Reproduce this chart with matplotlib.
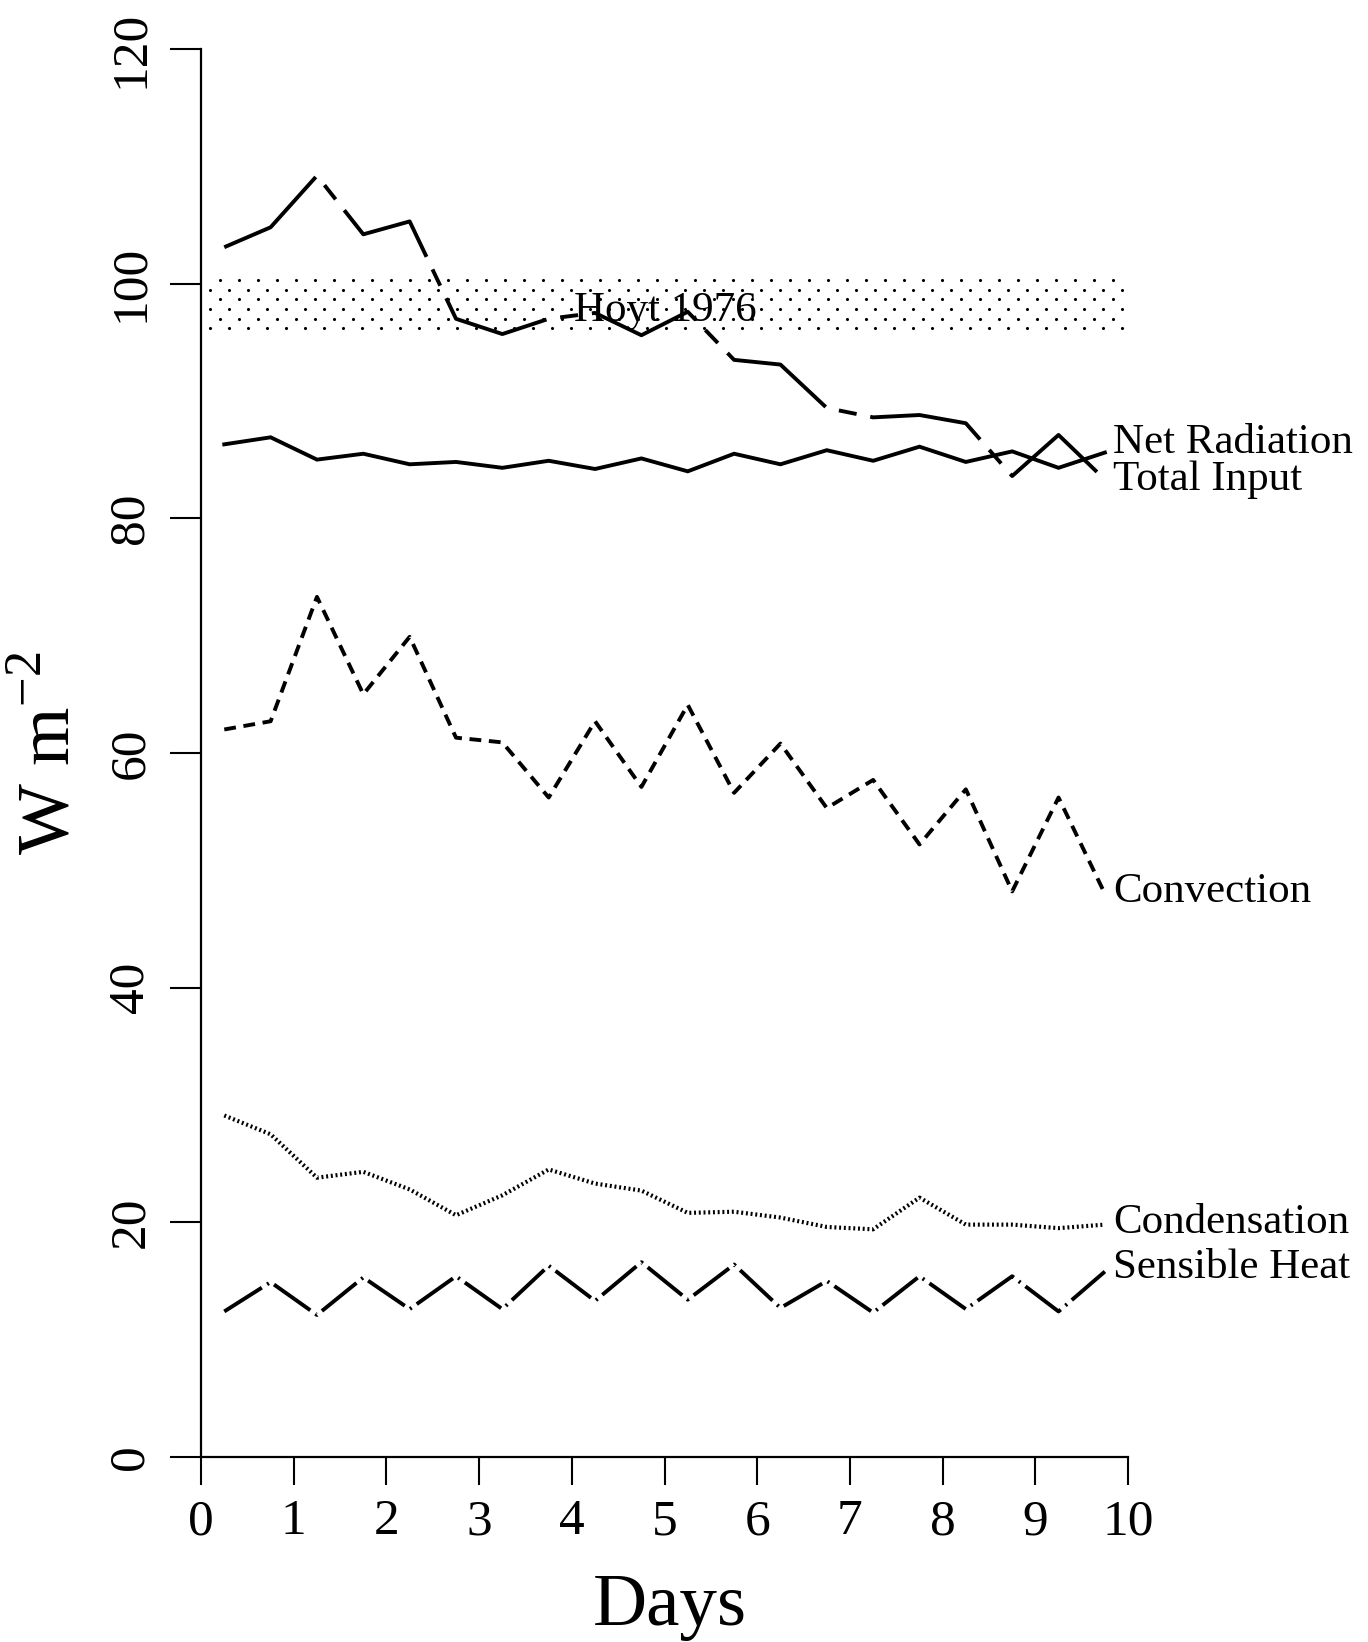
import numpy as np
import matplotlib
matplotlib.use("Agg")
import matplotlib.pyplot as plt

plt.rcParams['font.family'] = ['Liberation Serif', 'DejaVu Serif']
plt.rcParams['mathtext.fontset'] = 'custom'
plt.rcParams['mathtext.rm'] = 'Liberation Serif'
plt.rcParams['lines.scale_dashes'] = False

# data (days, W m-2)
days = [0.25, 0.75, 1.25, 1.75, 2.25, 2.75, 3.25, 3.75, 4.25, 4.75,
        5.25, 5.75, 6.25, 6.75, 7.25, 7.75, 8.25, 8.75, 9.25, 9.75]
total_input = [103.1, 104.8, 109.2, 104.2, 105.3, 97.0, 95.7, 97.0, 97.5, 95.6,
               97.6, 93.5, 93.1, 89.4, 88.6, 88.8, 88.1, 83.6, 87.1, 83.3]
net_radiation = [86.3, 86.9, 85.0, 85.5, 84.6, 84.8, 84.3, 84.9, 84.2, 85.1,
                 84.0, 85.5, 84.6, 85.8, 84.9, 86.1, 84.8, 85.7, 84.3, 85.6]
convection = [62.0, 62.7, 73.3, 65.0, 69.9, 61.3, 60.9, 56.2, 62.7, 57.1,
              64.1, 56.6, 60.8, 55.3, 57.7, 52.2, 56.9, 48.2, 56.2, 48.0]
condensation = [29.1, 27.5, 23.8, 24.3, 22.8, 20.6, 22.3, 24.5, 23.3, 22.7,
                20.8, 20.9, 20.4, 19.6, 19.4, 22.1, 19.8, 19.8, 19.5, 19.8]
sensible_heat = [12.4, 14.9, 12.1, 15.3, 12.6, 15.4, 12.6, 16.3, 13.3, 16.6,
                 13.4, 16.4, 12.7, 15.0, 12.3, 15.4, 12.6, 15.4, 12.4, 15.8]

hoyt_range = (96.2, 100.3)
hoyt_days = (0.0, 9.95)

fig = plt.figure(figsize=(13.68, 16.42), dpi=100)
ax = fig.add_axes([0.147, 0.1127, 0.6776, 0.8575])

# Hoyt (1976) band, stippled like the original
n_rows = 6
row_y = np.linspace(hoyt_range[1], hoyt_range[0], n_rows)
dx = 0.205
for i, yy in enumerate(row_y):
    start = hoyt_days[0] + (0.2 if i % 2 == 0 else 0.1)
    xs = np.arange(start, hoyt_days[1], dx)
    ax.scatter(xs, np.full_like(xs, yy), s=5, color='black', linewidths=0)

lw = 2.8
ax.plot(days, total_input, color='black', lw=lw, dashes=(85, 10, 13, 10),
        solid_joinstyle='miter')
ax.plot(days, net_radiation, color='black', lw=lw, solid_joinstyle='miter')
ax.plot(days, convection, color='black', lw=lw, dashes=(8.5, 5.5))
ax.plot(days, condensation, color='black', lw=3.0, dashes=(1.4, 2.0))
ax.plot(days, sensible_heat, color='black', lw=lw, dashes=(32, 4.5, 1.5, 4.5))

# labels at line ends
lab_kw = dict(fontsize=31, va='center', ha='left', clip_on=False)
ax.text(9.84, 86.4, 'Net Radiation', **lab_kw)
ax.text(9.84, 83.3, 'Total Input', **lab_kw)
ax.text(9.84, 48.2, 'Convection', **lab_kw)
ax.text(9.84, 20.0, 'Condensation', **lab_kw)
ax.text(9.84, 16.1, 'Sensible Heat', **lab_kw)
ax.text(4.02, 97.7, 'Hoyt 1976', fontsize=31, va='center', ha='left')

ax.set_xlim(0, 10)
ax.set_ylim(0, 120)
ax.set_xticks(range(0, 11))
ax.set_yticks(range(0, 121, 20))
for s in ['top', 'right']:
    ax.spines[s].set_visible(False)
for s in ['left', 'bottom']:
    ax.spines[s].set_linewidth(1.6)

ax.tick_params(axis='x', direction='out', length=20, width=1.5, labelsize=37, pad=10)
ax.tick_params(axis='y', direction='out', length=22, width=1.5, labelsize=37, pad=12)
for t in ax.get_yticklabels():
    t.set_rotation(90)
    t.set_va('center')

ax.set_xlabel('Days', fontsize=54)
ax.xaxis.set_label_coords(0.506, -0.083)
ax.set_ylabel(r'W m$^{-2}$', fontsize=54)
ax.yaxis.set_label_coords(-0.125, 0.5)

fig.savefig('out.png', dpi=100)
